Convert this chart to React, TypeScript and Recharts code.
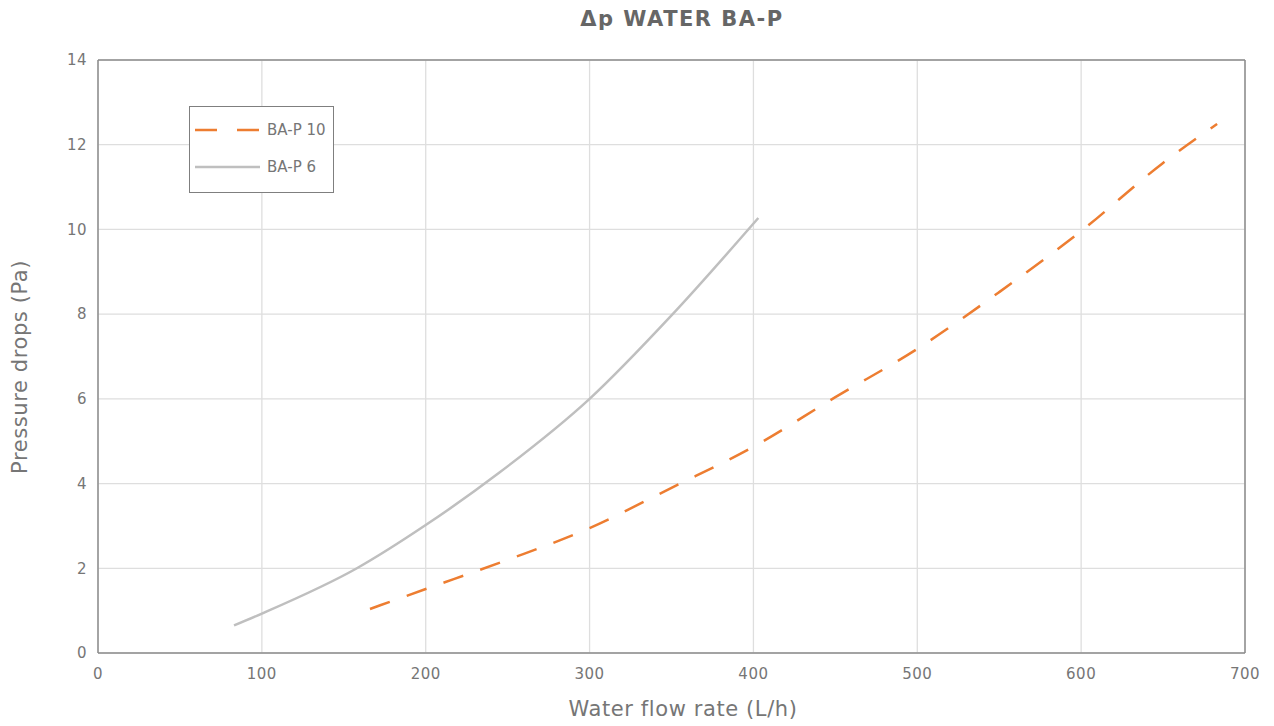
import React from 'react';
import { LineChart, Line, XAxis, YAxis, CartesianGrid, ReferenceLine } from 'recharts';

// BA-P 6 (solid gray)
const bap6Flow = [83, 100, 158, 200, 245, 300, 350, 403];
const bap6Drop = [0.65, 0.93, 2.0, 3.02, 4.26, 6.0, 7.97, 10.27];

// BA-P 10 (dashed orange)
const bap10Flow = [166, 200, 250, 300, 350, 400, 450, 500, 550, 600, 650, 683];
const bap10Drop = [1.04, 1.51, 2.2, 2.95, 3.9, 4.87, 6.04, 7.18, 8.52, 9.96, 11.57, 12.49];

const xTicks = [0, 100, 200, 300, 400, 500, 600, 700];
const yTicks = [0, 2, 4, 6, 8, 10, 12, 14];

const bap6 = bap6Flow.map((x, i) => ({ x, y: bap6Drop[i] }));
const bap10 = bap10Flow.map((x, i) => ({ x, y: bap10Drop[i] }));

const FONT = '"DejaVu Sans", sans-serif';
const TEXT = '#767676';
const ORANGE = '#ed7d31';
const GRAY = '#bfbfbf';

export default function App() {
  return (
    <div style={{ position: 'relative', width: 1274, height: 726, background: '#fff', fontFamily: FONT }}>
      <style>{'body{margin:0}'}</style>
      <div style={{ position: 'absolute', top: 7, left: 0, width: 1364, textAlign: 'center', fontSize: 21, letterSpacing: 1.5, fontWeight: 'bold', color: '#666' }}>
        Δp WATER BA-P
      </div>
      <LineChart width={1274} height={726} margin={{ top: 60, right: 29, bottom: 43, left: 38 }}>
        <CartesianGrid stroke="#dedede" strokeWidth={1.3} />
        <XAxis
          type="number"
          dataKey="x"
          domain={[0, 700]}
          ticks={xTicks}
          height={30}
          tickLine={false}
          axisLine={{ stroke: '#8c8c8c', strokeWidth: 1.5 }}
          tick={{ fill: TEXT, fontSize: 15, fontFamily: FONT, letterSpacing: 0.5 }}
          tickMargin={9}
        />
        <YAxis
          type="number"
          domain={[0, 14]}
          ticks={yTicks}
          width={60}
          tickLine={false}
          axisLine={{ stroke: '#8c8c8c', strokeWidth: 1.5 }}
          tick={{ fill: TEXT, fontSize: 15, fontFamily: FONT, letterSpacing: 0.5 }}
          tickMargin={5}
        />
        <ReferenceLine y={14} stroke="#8c8c8c" strokeWidth={1.5} />
        <ReferenceLine x={700} stroke="#8c8c8c" strokeWidth={1.5} />
        <Line
          data={bap6}
          dataKey="y"
          type="monotone"
          stroke={GRAY}
          strokeWidth={2.5}
          dot={false}
          isAnimationActive={false}
        />
        <Line
          data={bap10}
          dataKey="y"
          type="monotone"
          stroke={ORANGE}
          strokeWidth={2.5}
          strokeDasharray="21 18"
          dot={false}
          isAnimationActive={false}
        />
      </LineChart>
      <div style={{ position: 'absolute', top: 697, left: 0, width: 1366, textAlign: 'center', fontSize: 21, letterSpacing: 0.6, color: TEXT }}>
        Water flow rate (L/h)
      </div>
      <div
        style={{
          position: 'absolute',
          left: 20,
          top: 367,
          fontSize: 21,
          letterSpacing: 0.6,
          color: TEXT,
          whiteSpace: 'nowrap',
          transform: 'translate(-50%, -50%) rotate(-90deg)',
        }}
      >
        Pressure drops (Pa)
      </div>
      <div
        style={{
          position: 'absolute',
          left: 189,
          top: 106,
          width: 145,
          height: 87,
          border: '1px solid #7f7f7f',
          background: '#fff',
          boxSizing: 'border-box',
        }}
      >
        <svg width={145} height={87} style={{ position: 'absolute', left: 0, top: 0 }}>
          <line x1={5} y1={23} x2={70} y2={23} stroke={ORANGE} strokeWidth={2.5} strokeDasharray="22 20" />
          <line x1={5} y1={60} x2={70} y2={60} stroke={GRAY} strokeWidth={2.5} />
          <text x={77} y={28} fontSize={15} fill={TEXT} fontFamily={FONT}>BA-P 10</text>
          <text x={77} y={65} fontSize={15} fill={TEXT} fontFamily={FONT}>BA-P 6</text>
        </svg>
      </div>
    </div>
  );
}
